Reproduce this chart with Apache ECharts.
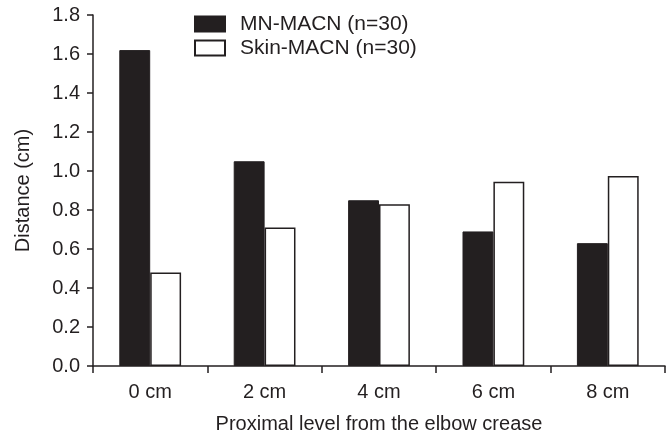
<!DOCTYPE html>
<html>
<head>
<meta charset="utf-8">
<script src="https://cdn.jsdelivr.net/npm/echarts@6/dist/echarts.min.js"></script>
<style>html,body{margin:0;padding:0;background:#fff}#c{width:672px;height:436px}</style>
</head>
<body>
<div id="c"></div>
<script>
const categories = ['0 cm', '2 cm', '4 cm', '6 cm', '8 cm'];
const mnMacn = [1.62, 1.05, 0.85, 0.69, 0.63];
const skinMacn = [0.48, 0.71, 0.83, 0.945, 0.975];
const seriesNames = ['MN-MACN (n=30)', 'Skin-MACN (n=30)'];

const ink = '#231f20';
const font = 'Liberation Sans, Arial, sans-serif';
const chart = echarts.init(document.getElementById('c'), null, {renderer: 'canvas'});
chart.setOption({
  animation: false,
  backgroundColor: '#fff',
  grid: {left: 93, top: 15, right: 7, bottom: 70, containLabel: false, outerBoundsMode: 'none'},
  legend: {
    orient: 'vertical', left: 194, top: 12, padding: 0, itemWidth: 30, itemHeight: 15, itemGap: 0,
    icon: 'rect',
    textStyle: {fontFamily: font, fontSize: 21, lineHeight: 24, color: ink, padding: [0, 0, 0, 10]},
    data: seriesNames
  },
  xAxis: {
    type: 'category', data: categories,
    name: 'Proximal level from the elbow crease', nameLocation: 'middle', nameGap: 48,
    nameTextStyle: {fontFamily: font, fontSize: 20, color: ink},
    axisLine: {lineStyle: {color: ink, width: 1.5}},
    axisTick: {show: true, inside: false, length: 7, alignWithLabel: false, lineStyle: {color: ink, width: 1.5}},
    axisLabel: {fontFamily: font, fontSize: 20, color: ink, margin: 16}
  },
  yAxis: {
    type: 'value', min: 0, max: 1.8, interval: 0.2,
    name: 'Distance (cm)', nameLocation: 'middle', nameGap: 60, nameRotate: 90,
    nameTextStyle: {fontFamily: font, fontSize: 20, color: ink},
    axisLine: {show: true, lineStyle: {color: ink, width: 1.5}},
    axisTick: {show: true, length: 6, lineStyle: {color: ink, width: 1.5}},
    splitLine: {show: false},
    axisLabel: {fontFamily: font, fontSize: 20, color: ink, margin: 13,
      formatter: v => v.toFixed(1)}
  },
  series: [
    {name: seriesNames[0], type: 'bar', data: mnMacn, barGap: '0%', barCategoryGap: '46%',
     itemStyle: {color: ink, borderColor: ink, borderWidth: 1}},
    {name: seriesNames[1], type: 'bar', data: skinMacn, barGap: '0%', barCategoryGap: '46%',
     itemStyle: {color: '#fff', borderColor: ink, borderWidth: 1.5}}
  ]
});
</script>
</body>
</html>
